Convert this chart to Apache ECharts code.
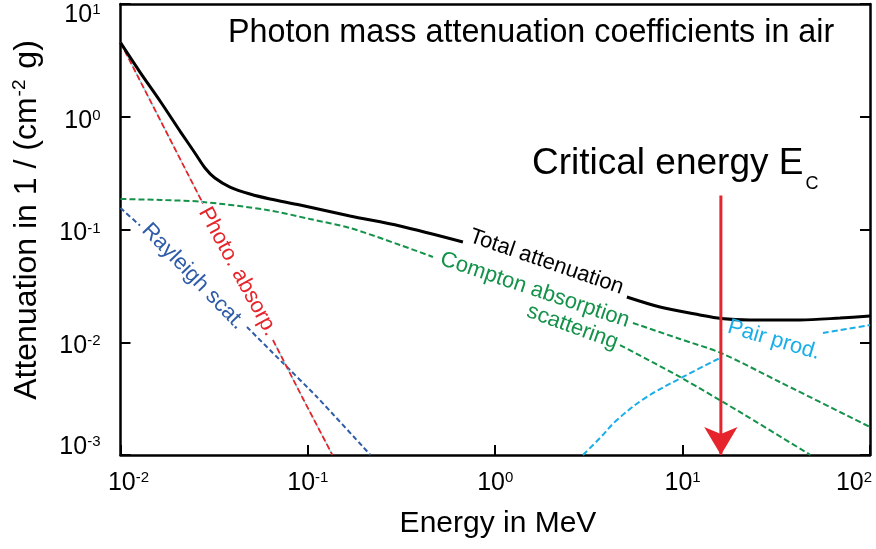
<!DOCTYPE html>
<html>
<head>
<meta charset="utf-8">
<title>Photon mass attenuation coefficients in air</title>
<script src="https://cdn.jsdelivr.net/npm/echarts@6/dist/echarts.min.js"></script>
<style>
  html, body { margin: 0; padding: 0; background: #fff; }
  #chart { width: 876px; height: 549px; }
</style>
</head>
<body>
<div id="chart"></div>
<script>
const FONT = '"Liberation Sans", Arial, Helvetica, sans-serif';
const GREEN = '#14924a', BLUE = '#2e5ca8', RED = '#e6242b', CYAN = '#1aaee8';

// Energy in MeV, mass attenuation coefficient in cm^2/g.
// A null entry breaks the curve where its label is written along it.
const totalAttenuation = [
  [0.01, 4.54], [0.0127, 2.49], [0.01626, 1.38], [0.02077, 0.747], [0.02496, 0.477],
  [0.02825, 0.351], [0.0319, 0.286], [0.0384, 0.238], [0.0491, 0.2065], [0.0628, 0.1865],
  [0.0908, 0.165], [0.1677, 0.1317], [0.310, 0.1074], [0.672, 0.0775],
  null,
  [5.04, 0.0252], [7.57, 0.02054], [12.37, 0.01745], [16.0, 0.01624], [22.9, 0.01575],
  [42.3, 0.01575], [69.1, 0.0164], [100, 0.0171]
];
const photoAbsorption = [
  [0.01, 4.54], [0.01437, 1.403], [0.02077, 0.4246], [0.02755, 0.170],
  null,
  [0.0651, 0.01047], [0.0941, 0.00317], [0.1352, 0.001]
];
const rayleighScattering = [
  [0.01, 0.1551], [0.01271, 0.1085],
  null,
  [0.0473, 0.01365], [0.0727, 0.00668], [0.1118, 0.00327], [0.2158, 0.001]
];
const comptonAbsorption = [
  [0.01, 0.1865], [0.01626, 0.1828], [0.02655, 0.1765], [0.0605, 0.149], [0.1026, 0.1239],
  [0.1677, 0.1031], [0.310, 0.0729], [0.465, 0.0571],
  null,
  [5.43, 0.01482], [9.67, 0.01069], [16.0, 0.00803], [33.0, 0.00444], [100, 0.00177]
];
const comptonScattering = [
  [4.63, 0.00945], [9.67, 0.00492], [21.5, 0.00226], [48.1, 0.001]
];
const pairProduction = [
  [2.94, 0.001], [3.62, 0.001415], [4.46, 0.002044], [6.30, 0.0032], [10.04, 0.00492], [15.81, 0.00725],
  null,
  [56.1, 0.01208], [100, 0.01422]
];
const criticalEnergy = 16;          // MeV
const criticalArrowTop = 0.2;
const criticalArrowTip = 0.001;

const xTickExponents = [-2, -1, 0, 1, 2];
const yTickExponents = [-3, -2, -1, 0, 1];

// Curve labels: text, anchor (energy, coefficient), angle in degrees
const curveLabels = [
  { text: 'Total attenuation', at: [1.876, 0.0515], angle: -19, color: '#000', size: 22 },
  { text: 'Compton absorption', at: [1.629, 0.02906], angle: -18.5, color: GREEN, size: 22 },
  { text: 'scattering', at: [2.582, 0.01366], angle: -20, color: GREEN, size: 22 },
  { text: 'Photo. absorp.', at: [0.04236, 0.04227], angle: -61.5, color: RED, size: 22 },
  { text: 'Rayleigh scat.', at: [0.0245, 0.0383], angle: -46, color: BLUE, size: 22 },
  { text: 'Pair prod.', at: [30.7, 0.01047], angle: -16.5, color: CYAN, size: 22 }
];

const toLineData = arr => arr.map(p => (p ? p : ['-', '-']));

// Rich-text token; dy moves the glyphs down (positive) or up (negative),
// padL / padR shift the whole label sideways.
function tok(size, dy, padL, padR) {
  return {
    fontSize: size, fontFamily: FONT, color: '#000', lineHeight: 28,
    padding: [Math.max(0, 2 * dy), padR || 0, Math.max(0, -2 * dy), padL || 0]
  };
}
const SUP = 5;
const xRich = {
  b: tok(25, 0), s: tok(15, -SUP),
  bMin: tok(25, 0, 16, 0), sMin: tok(15, -SUP),
  bMax: tok(25, 0), sMax: tok(15, -SUP, 0, 32)
};
const yRich = {
  b: tok(25, 4), s: tok(15, 4 - SUP),
  bMin: tok(25, -8), sMin: tok(15, -8 - SUP),
  bMax: tok(25, 11), sMax: tok(15, 11 - SUP)
};
function powerLabel(exps) {
  return function (v) {
    const e = Math.round(Math.log10(v));
    const k = e === exps[0] ? 'Min' : (e === exps[exps.length - 1] ? 'Max' : '');
    return '{b' + k + '|10}{s' + k + '|' + e + '}';
  };
}

const axisLine = { show: true, onZero: false, lineStyle: { color: '#000', width: 2.5 } };
const tickStyle = { inside: true, length: 10, lineStyle: { color: '#000', width: 2 } };

const xMin = Math.pow(10, xTickExponents[0]), xMax = Math.pow(10, xTickExponents[xTickExponents.length - 1]);
const yMin = Math.pow(10, yTickExponents[0]), yMax = Math.pow(10, yTickExponents[yTickExponents.length - 1]);

function dashed(color, width, dash) {
  return { color: color, width: width, type: dash, cap: 'butt' };
}

const chart = echarts.init(document.getElementById('chart'), null, { renderer: 'canvas' });
chart.setOption({
  animation: false,
  backgroundColor: '#fff',
  grid: { left: 120.5, right: 6, top: 4, bottom: 94, containLabel: false, outerBoundsMode: 'none' },
  xAxis: [
    {
      type: 'log', logBase: 10, min: xMin, max: xMax, position: 'bottom',
      axisLine: axisLine, axisTick: tickStyle, splitLine: { show: false },
      minorTick: { show: false },
      axisLabel: { margin: 14, showMinLabel: true, showMaxLabel: true, formatter: powerLabel(xTickExponents), rich: xRich }
    },
    {
      type: 'log', logBase: 10, min: xMin, max: xMax, position: 'top',
      axisLine: axisLine, axisTick: { show: false }, axisLabel: { show: false }, splitLine: { show: false }
    }
  ],
  yAxis: [
    {
      type: 'log', logBase: 10, min: yMin, max: yMax, position: 'left',
      axisLine: axisLine, axisTick: tickStyle, splitLine: { show: false },
      axisLabel: { margin: 20, showMinLabel: true, showMaxLabel: true, formatter: powerLabel(yTickExponents), rich: yRich }
    },
    {
      type: 'log', logBase: 10, min: yMin, max: yMax, position: 'right',
      axisLine: axisLine, axisTick: tickStyle, axisLabel: { show: false }, splitLine: { show: false }
    }
  ],
  series: [
    {
      name: 'Compton scattering', type: 'line', data: toLineData(comptonScattering),
      showSymbol: false, smooth: 0.3, connectNulls: false, silent: true,
      lineStyle: dashed(GREEN, 2, [6, 3]), z: 2
    },
    {
      name: 'Compton absorption', type: 'line', data: toLineData(comptonAbsorption),
      showSymbol: false, smooth: 0.3, connectNulls: false, silent: true,
      lineStyle: dashed(GREEN, 2, [6, 3]), z: 2
    },
    {
      name: 'Pair production', type: 'line', data: toLineData(pairProduction),
      showSymbol: false, smooth: 0.35, connectNulls: false, silent: true,
      lineStyle: dashed(CYAN, 2, [6, 3]), z: 2
    },
    {
      name: 'Rayleigh scattering', type: 'line', data: toLineData(rayleighScattering),
      showSymbol: false, smooth: 0.2, connectNulls: false, silent: true,
      lineStyle: dashed(BLUE, 2, [5, 3]), z: 3
    },
    {
      name: 'Photo absorption base', type: 'line', data: toLineData(photoAbsorption),
      showSymbol: false, connectNulls: false, silent: true,
      lineStyle: { color: '#7fd6e2', width: 1 }, z: 3
    },
    {
      name: 'Photo absorption', type: 'line', data: toLineData(photoAbsorption),
      showSymbol: false, connectNulls: false, silent: true,
      lineStyle: dashed(RED, 1.8, [6, 3]), z: 4
    },
    {
      name: 'Total attenuation', type: 'line', data: toLineData(totalAttenuation),
      showSymbol: false, smooth: 0.3, connectNulls: false, silent: true,
      lineStyle: { color: '#000', width: 3 }, z: 5
    },
    {
      name: 'Critical energy', type: 'line',
      data: [[criticalEnergy, criticalArrowTop], [criticalEnergy, criticalArrowTip]],
      showSymbol: false, silent: true,
      lineStyle: { color: RED, width: 3 }, z: 6
    },
    {
      name: 'Critical energy head', type: 'scatter',
      data: [[criticalEnergy, criticalArrowTip]],
      symbol: 'arrow', symbolSize: [25, 28], symbolRotate: 180, silent: true,
      itemStyle: { color: RED, opacity: 1 }, z: 7
    }
  ]
});

// Text written on the chart
const measure = document.createElement('canvas').getContext('2d');
measure.font = '37px "Liberation Sans"';
const critWidth = measure.measureText('Critical energy E').width;

const graphics = [
  {
    type: 'text', x: 228, y: 33, silent: true,
    style: { text: 'Photon mass attenuation coefficients in air', fontSize: 32.3, fontFamily: FONT, fill: '#000', align: 'left', verticalAlign: 'middle' }
  },
  {
    type: 'text', x: 498, y: 524, silent: true,
    style: { text: 'Energy in MeV', fontSize: 30, fontFamily: FONT, fill: '#000', align: 'center', verticalAlign: 'middle' }
  },
  {
    type: 'text', x: 27, y: 220, rotation: Math.PI / 2, silent: true,
    style: {
      text: '{t|Attenuation in 1 / (cm}{s|-2}{t| g)}', align: 'center', verticalAlign: 'middle',
      rich: {
        t: { fontSize: 32, fontFamily: FONT, color: '#000', lineHeight: 36 },
        s: { fontSize: 19, fontFamily: FONT, color: '#000', lineHeight: 36, padding: [0, 2, 14, 1] }
      }
    }
  },
  {
    type: 'text', x: 532, y: 164, silent: true,
    style: { text: 'Critical energy E', fontSize: 37, fontFamily: FONT, fill: '#000', align: 'left', verticalAlign: 'middle' }
  },
  {
    type: 'text', x: 532 + critWidth + 2, y: 184, silent: true,
    style: { text: 'C', fontSize: 18, fontFamily: FONT, fill: '#000', align: 'left', verticalAlign: 'middle' }
  }
];
curveLabels.forEach(function (l) {
  const p = chart.convertToPixel({ xAxisIndex: 0, yAxisIndex: 0 }, l.at);
  graphics.push({
    type: 'text', x: p[0], y: p[1], rotation: l.angle * Math.PI / 180, silent: true, z: 10,
    style: { text: l.text, fontSize: l.size, fontFamily: FONT, fill: l.color, align: 'center', verticalAlign: 'middle' }
  });
});
chart.setOption({ graphic: graphics });
</script>
</body>
</html>
